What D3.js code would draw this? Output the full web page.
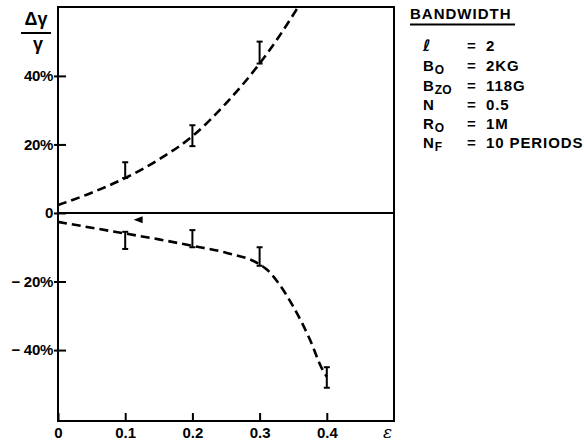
<!DOCTYPE html>
<html><head><meta charset="utf-8">
<script src="https://cdn.jsdelivr.net/npm/d3@7"></script>
<style>
body{margin:0;background:#fff;}
svg{display:block;font-family:"Liberation Sans",Arial,sans-serif;font-weight:bold;}
</style></head>
<body><svg id="c" width="584" height="444"></svg>
<script>
// ---- data ----
const xTicks = [0, 0.1, 0.2, 0.3, 0.4];
const yTicks = [40, 20, 0, -20, -40];
const upperCurve = [[0,2.3],[0.05,5.9],[0.1,10.2],[0.15,15.6],[0.2,22.4],[0.25,32],[0.3,43.6],[0.33,51.8],[0.357,60]];
const lowerCurve = [[0,-2.6],[0.05,-4.3],[0.1,-6],[0.15,-7.7],[0.2,-9.6],[0.25,-11.6],[0.3,-15],[0.3125,-16.8],[0.33,-21],[0.35,-27.3],[0.375,-37],[0.393,-45.5],[0.4,-47.8]];
const errX = [0.1, 0.2, 0.3, 0.1, 0.2, 0.3, 0.4];
const errLo = [10.2, 19.5, 43.6, -5.5, -5, -10, -45];
const errHi = [14.8, 25.6, 50, -10.5, -10, -15.4, -51];
const arrowPt = [0.12, -2];
const legendTitle = "BANDWIDTH";
const legendNames = ["ℓ","B","B","N","R","N"];
const legendSubs = ["","O","ZO","","O","F"];
const legendValues = ["2","2KG","118G","0.5","1M","10 PERIODS"];

// ---- scales ----
const svg = d3.select("#c");
const x = d3.scaleLinear().domain([0,0.5]).range([58,394]);
const y = d3.scaleLinear().domain([-60.7,60.1]).range([421,7]);

// frame
svg.append("rect").attr("x",x(0)).attr("y",y(60.1)).attr("width",x(0.5)-x(0)).attr("height",y(-60.7)-y(60.1))
  .attr("fill","none").attr("stroke","#000").attr("stroke-width",2);

// zero line
svg.append("line").attr("x1",x(0)).attr("x2",x(0.5)).attr("y1",y(0)).attr("y2",y(0))
  .attr("stroke","#000").attr("stroke-width",2);

// x axis
const xAxis = d3.axisBottom(x).tickValues(xTicks).tickSize(-8).tickPadding(6)
  .tickFormat(d => d===0 ? "0" : d3.format(".1f")(d));
const gx = svg.append("g").attr("transform",`translate(0,${y(-60.7)})`).call(xAxis);
gx.select(".domain").remove();
gx.selectAll("line").attr("stroke","#000").attr("stroke-width",2);
gx.selectAll("text").attr("font-size",15).attr("font-family","'Liberation Sans',Arial,sans-serif").attr("font-weight","bold").attr("fill","#000");

// y axis
const yAxis = d3.axisLeft(y).tickValues(yTicks).tickSize(-8).tickPadding(5)
  .tickFormat(d => d===0 ? "0" : (d<0 ? "\u2212 " + (-d) + "%" : d + "%"));
const gy = svg.append("g").attr("transform",`translate(${x(0)},0)`).call(yAxis);
gy.select(".domain").remove();
gy.selectAll("line").attr("stroke","#000").attr("stroke-width",2).attr("x1",-4);
gy.selectAll("text").attr("font-size",15).attr("font-family","'Liberation Sans',Arial,sans-serif").attr("font-weight","bold").attr("fill","#000").attr("letter-spacing","-0.3");

// axis titles
svg.append("text").attr("x",x(0.5)-11).attr("y",y(-60.7)+17).attr("font-size",17).attr("font-style","italic").attr("font-weight","normal").attr("font-family","'DejaVu Serif',serif").text("ε");
svg.append("text").attr("x",36).attr("y",25).attr("text-anchor","middle").attr("font-size",18).text("Δγ");
svg.append("line").attr("x1",21).attr("x2",51).attr("y1",33).attr("y2",33).attr("stroke","#000").attr("stroke-width",2);
svg.append("text").attr("x",38).attr("y",50).attr("text-anchor","middle").attr("font-size",18).text("γ");

// curves
const line = d3.line().x(d=>x(d[0])).y(d=>y(d[1])).curve(d3.curveMonotoneX);
[upperCurve, lowerCurve].forEach(c => {
  svg.append("path").attr("d",line(c)).attr("fill","none").attr("stroke","#000")
    .attr("stroke-width",2.6).attr("stroke-dasharray","9,5");
});

// error bars
const eb = svg.append("g").attr("stroke","#000").attr("stroke-width",2);
errX.forEach((e,i)=>{
  eb.append("line").attr("x1",x(e)).attr("x2",x(e)).attr("y1",y(errLo[i])).attr("y2",y(errHi[i]));
  [errLo[i],errHi[i]].forEach(v=>{
    eb.append("line").attr("x1",x(e)-3).attr("x2",x(e)+3).attr("y1",y(v)).attr("y2",y(v));
  });
});

// small arrow
const ax = x(arrowPt[0]), ay = y(arrowPt[1]);
svg.append("path").attr("d",`M${ax-5},${ay} L${ax+4},${ay-3.5} L${ax+4},${ay+3.5} Z`).attr("fill","#000");

// legend
const lg = svg.append("g");
lg.append("text").attr("x",410).attr("y",19).attr("font-size",15).attr("letter-spacing","1").text(legendTitle);
lg.append("line").attr("x1",410).attr("x2",515).attr("y1",24.5).attr("y2",24.5).attr("stroke","#000").attr("stroke-width",2);
const baselines = [51,71,90.5,110,129,147.5];
legendNames.forEach((n,i)=>{
  const t = lg.append("text").attr("x",423).attr("y",baselines[i]).attr("font-size",15);
  if(n==="ℓ"){ t.attr("font-family","'DejaVu Sans',sans-serif").attr("font-style","italic").attr("font-size",16); }
  t.append("tspan").text(n);
  if(legendSubs[i]) t.append("tspan").attr("dy",3).attr("dx",1).attr("font-size",12).text(legendSubs[i]);
  lg.append("text").attr("x",467).attr("y",baselines[i]).attr("font-size",15).text("=");
  lg.append("text").attr("x",486).attr("y",baselines[i]).attr("font-size",15).attr("letter-spacing","0.9").text(legendValues[i]);
});
</script></body></html>
